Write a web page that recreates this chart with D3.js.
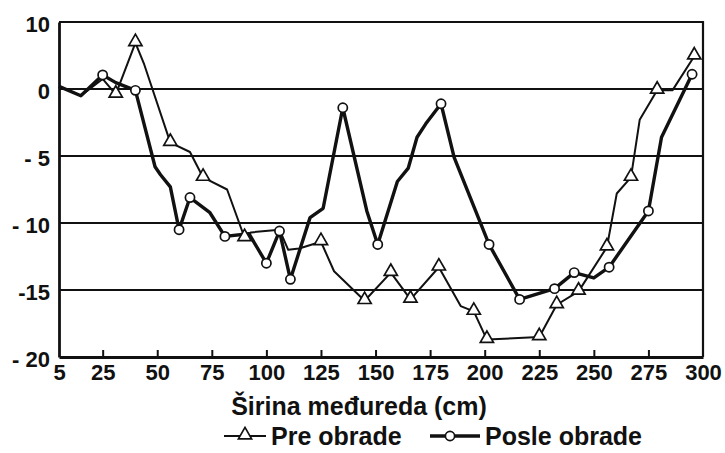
<!DOCTYPE html>
<html>
<head>
<meta charset="utf-8">
<script src="https://cdn.jsdelivr.net/npm/d3@7"></script>
<style>
  html, body { margin: 0; padding: 0; background: #fff; }
  svg { display: block; }
  text { font-family: "Liberation Sans", Arial, sans-serif; font-weight: bold; fill: #111; }
</style>
</head>
<body>
<svg id="chart" width="725" height="453"></svg>
<script>
// ---- Data ----
const preX = [5, 15, 25, 31, 40, 44, 56, 65, 71, 82, 90, 93, 106, 110, 115, 125, 131, 145, 157, 166, 179, 189, 195, 201, 225, 233, 243, 256, 260.5, 267, 271, 279, 286, 296];
const preY = [0.4, -0.5, 1.5, -0.4, 6.9, 3.7, -4.0, -4.7, -6.6, -7.5, -11.1, -10.7, -10.5, -12.0, -11.9, -11.4, -13.6, -15.8, -13.7, -15.7, -13.3, -16.2, -16.6, -18.7, -18.5, -16.1, -15.1, -11.8, -7.8, -6.6, -2.3, -0.1, -0.1, 4.9];
const preMarked = [31, 40, 56, 71, 90, 125, 145, 157, 166, 179, 195, 201, 225, 233, 243, 256, 267, 279, 296];

const posleX = [5, 15, 25, 31, 40, 49, 51.5, 56, 60, 65, 74, 81, 92, 100, 106, 111, 120, 126, 135, 146, 151, 160, 165, 169, 173, 180, 186, 202, 216, 232, 241, 250, 257, 275, 281, 295];
const posleY = [0.4, -0.5, 2.1, 0.95, -0.1, -5.8, -6.4, -7.3, -10.5, -8.1, -9.2, -11.0, -10.8, -13.0, -10.6, -14.2, -9.6, -8.9, -1.4, -9.1, -11.6, -6.9, -5.9, -3.6, -2.6, -1.1, -5.1, -11.6, -15.7, -14.9, -13.7, -14.1, -13.3, -9.1, -3.6, 2.2];
const posleMarked = [25, 40, 60, 65, 81, 100, 106, 111, 135, 151, 180, 202, 216, 232, 241, 257, 275, 295];

const xTicks = [5, 25, 50, 75, 100, 125, 150, 175, 200, 225, 250, 275, 300];
const yTicks = [10, 0, -5, -10, -15, -20];
const yTickLabels = ["10", "0", "- 5", "- 10", "-15", "- 20"];
const xTitle = "Širina međureda (cm)";
const seriesNames = ["Pre obrade", "Posle obrade"];

// ---- Layout ----
const svg = d3.select("#chart");
const L = 59, R = 703, T = 22, B = 357;

const x = d3.scaleLinear().domain([5, 300]).range([L, R]);
const y = d3.scaleLinear().domain([-20, 0, 10]).range([B, 89, T]);

// gridlines
svg.append("g").selectAll("line")
  .data(yTicks.filter(v => v !== -20))
  .join("line")
  .attr("x1", L).attr("x2", R)
  .attr("y1", d => y(d)).attr("y2", d => y(d))
  .attr("stroke", "#111").attr("stroke-width", d => d === 10 ? 2.2 : 2);

// right border
svg.append("line").attr("x1", R).attr("x2", R).attr("y1", T - 1).attr("y2", B)
  .attr("stroke", "#111").attr("stroke-width", 2.2);

// x axis
const xAxis = d3.axisBottom(x).tickValues(xTicks).tickSizeInner(-7).tickSizeOuter(0).tickPadding(12)
  .tickFormat(d => String(d));
const gx = svg.append("g").attr("transform", `translate(0,${B})`).call(xAxis);
gx.select(".domain").attr("stroke", "#111").attr("stroke-width", 2.8);
gx.selectAll(".tick line").attr("stroke", "#111").attr("stroke-width", 2)
  .attr("display", d => (d === 5 || d === 300) ? "none" : null);
gx.selectAll(".tick text").attr("font-size", 22).attr("font-family", "Liberation Sans, Arial, sans-serif")
  .attr("font-weight", "bold").attr("fill", "#111").attr("dy", "0.71em").attr("y", 7);

// y axis
const yAxis = d3.axisLeft(y).tickValues(yTicks).tickSize(0).tickPadding(9)
  .tickFormat((d, i) => yTickLabels[i]);
const gy = svg.append("g").attr("transform", `translate(${L},0)`).call(yAxis);
gy.select(".domain").attr("stroke", "#111").attr("stroke-width", 2.8);
gy.selectAll(".tick text").attr("font-size", 22).attr("font-family", "Liberation Sans, Arial, sans-serif")
  .attr("font-weight", "bold").attr("fill", "#111").attr("dy", "0.45em");

// lines
const line = d3.line().x(d => x(d[0])).y(d => y(d[1]));
const pre = preX.map((v, i) => [v, preY[i]]);
const posle = posleX.map((v, i) => [v, posleY[i]]);

svg.append("path").datum(pre).attr("d", line).attr("fill", "none")
  .attr("stroke", "#111").attr("stroke-width", 2).attr("stroke-linejoin", "round");
svg.append("path").datum(posle).attr("d", line).attr("fill", "none")
  .attr("stroke", "#111").attr("stroke-width", 3.4).attr("stroke-linejoin", "round");

const tri = d3.symbol().type(d3.symbolTriangle).size(75);
svg.append("g").selectAll("path")
  .data(pre.filter(d => preMarked.includes(d[0])))
  .join("path")
  .attr("d", tri)
  .attr("transform", d => `translate(${x(d[0])},${y(d[1]) - 1})`)
  .attr("fill", "#fff").attr("stroke", "#111").attr("stroke-width", 1.7);

svg.append("g").selectAll("circle")
  .data(posle.filter(d => posleMarked.includes(d[0])))
  .join("circle")
  .attr("cx", d => x(d[0])).attr("cy", d => y(d[1])).attr("r", 4.6)
  .attr("fill", "#fff").attr("stroke", "#111").attr("stroke-width", 1.7);

// x title
svg.append("text").attr("x", 359).attr("y", 415).attr("text-anchor", "middle")
  .attr("font-size", 25).text(xTitle);

// legend
const lg = svg.append("g").attr("transform", "translate(0,436)");
lg.append("line").attr("x1", 224).attr("x2", 266).attr("y1", 0).attr("y2", 0)
  .attr("stroke", "#111").attr("stroke-width", 2);
lg.append("path").attr("d", tri).attr("transform", "translate(245,-1)")
  .attr("fill", "#fff").attr("stroke", "#111").attr("stroke-width", 1.7);
lg.append("text").attr("x", 271).attr("y", 0).attr("dy", "0.36em").attr("font-size", 25).text(seriesNames[0]);

lg.append("line").attr("x1", 430).attr("x2", 480).attr("y1", 0).attr("y2", 0)
  .attr("stroke", "#111").attr("stroke-width", 3.4);
lg.append("circle").attr("cx", 450).attr("cy", 0).attr("r", 4.6)
  .attr("fill", "#fff").attr("stroke", "#111").attr("stroke-width", 1.7);
lg.append("text").attr("x", 485).attr("y", 0).attr("dy", "0.36em").attr("font-size", 25).text(seriesNames[1]);
</script>
</body>
</html>
